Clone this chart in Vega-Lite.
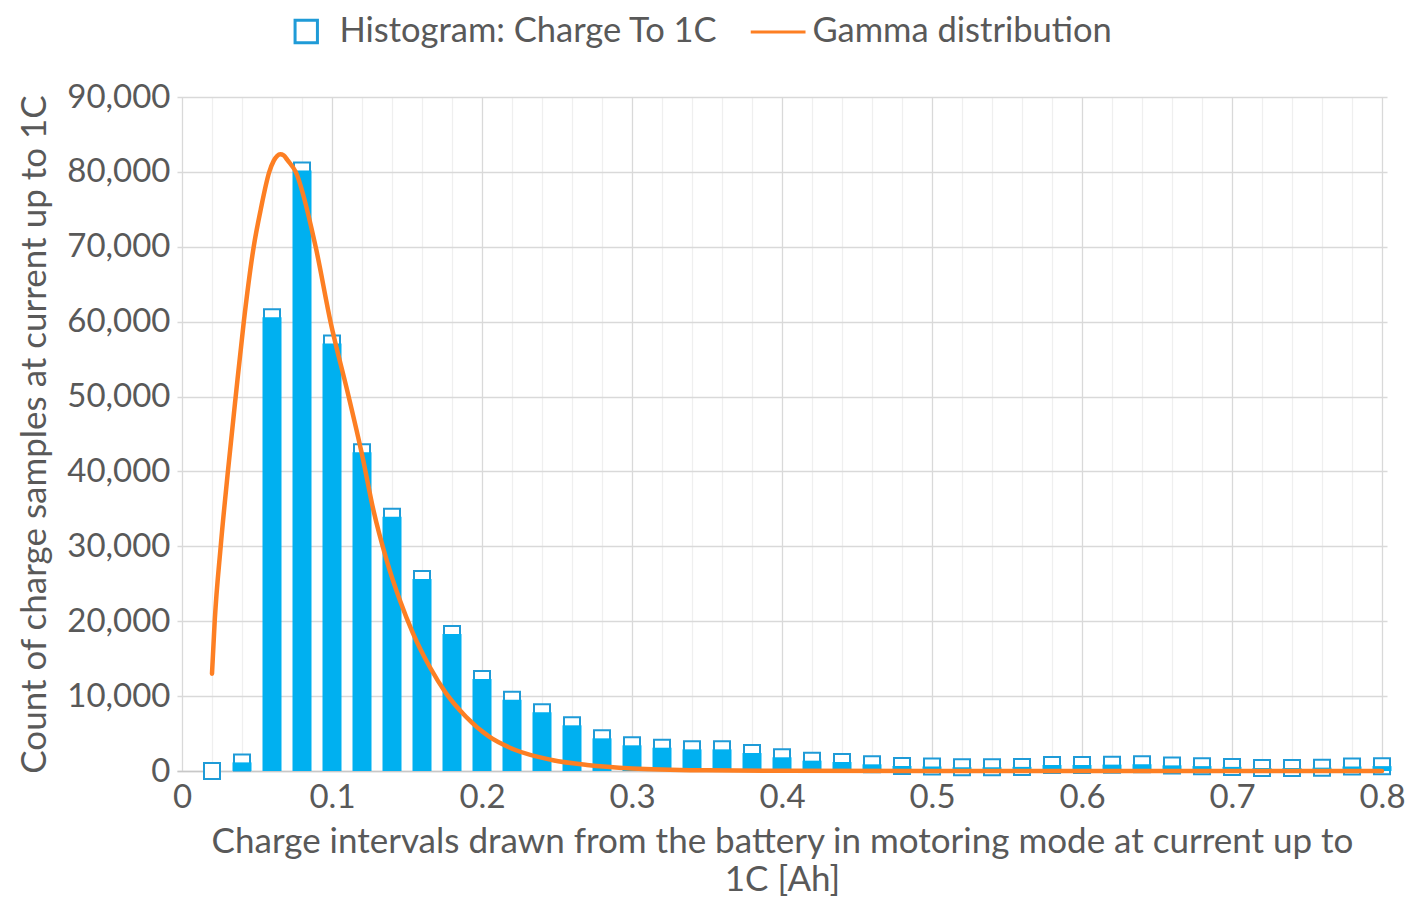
{
  "$schema": "https://vega.github.io/schema/vega-lite/v6.json",
  "width": 1210,
  "height": 674,
  "autosize": {"type": "none"},
  "padding": {"left": 177, "top": 97, "right": 41, "bottom": 140},
  "background": "white",
  "config": {
    "font": "Lato",
    "view": {"stroke": null},
    "axis": {
      "labelFont": "Lato", "titleFont": "Lato",
      "labelColor": "#595959", "titleColor": "#595959",
      "labelFontSize": 33, "titleFontSize": 35,
      "titleFontWeight": "normal",
      "ticks": false,
      "gridColor": "#d9d9d9", "gridWidth": 1.3
    },
    "legend": {
      "labelFont": "Lato", "labelFontSize": 34.5, "labelColor": "#595959", "labelLimit": 0
    }
  },
  "datasets": {
    "hist": [
      {"x": 0.02, "count": 0, "series": "Histogram: Charge To 1C"},
      {"x": 0.04, "count": 1150, "series": "Histogram: Charge To 1C"},
      {"x": 0.06, "count": 60600, "series": "Histogram: Charge To 1C"},
      {"x": 0.08, "count": 80200, "series": "Histogram: Charge To 1C"},
      {"x": 0.10, "count": 57100, "series": "Histogram: Charge To 1C"},
      {"x": 0.12, "count": 42550, "series": "Histogram: Charge To 1C"},
      {"x": 0.14, "count": 33950, "series": "Histogram: Charge To 1C"},
      {"x": 0.16, "count": 25650, "series": "Histogram: Charge To 1C"},
      {"x": 0.18, "count": 18300, "series": "Histogram: Charge To 1C"},
      {"x": 0.20, "count": 12280, "series": "Histogram: Charge To 1C"},
      {"x": 0.22, "count": 9520, "series": "Histogram: Charge To 1C"},
      {"x": 0.24, "count": 7830, "series": "Histogram: Charge To 1C"},
      {"x": 0.26, "count": 6100, "series": "Histogram: Charge To 1C"},
      {"x": 0.28, "count": 4360, "series": "Histogram: Charge To 1C"},
      {"x": 0.30, "count": 3430, "series": "Histogram: Charge To 1C"},
      {"x": 0.32, "count": 3110, "series": "Histogram: Charge To 1C"},
      {"x": 0.34, "count": 2890, "series": "Histogram: Charge To 1C"},
      {"x": 0.36, "count": 2890, "series": "Histogram: Charge To 1C"},
      {"x": 0.38, "count": 2400, "series": "Histogram: Charge To 1C"},
      {"x": 0.40, "count": 1830, "series": "Histogram: Charge To 1C"},
      {"x": 0.42, "count": 1380, "series": "Histogram: Charge To 1C"},
      {"x": 0.44, "count": 1200, "series": "Histogram: Charge To 1C"},
      {"x": 0.46, "count": 890, "series": "Histogram: Charge To 1C"},
      {"x": 0.48, "count": 670, "series": "Histogram: Charge To 1C"},
      {"x": 0.50, "count": 600, "series": "Histogram: Charge To 1C"},
      {"x": 0.52, "count": 500, "series": "Histogram: Charge To 1C"},
      {"x": 0.54, "count": 500, "series": "Histogram: Charge To 1C"},
      {"x": 0.56, "count": 550, "series": "Histogram: Charge To 1C"},
      {"x": 0.58, "count": 800, "series": "Histogram: Charge To 1C"},
      {"x": 0.60, "count": 800, "series": "Histogram: Charge To 1C"},
      {"x": 0.62, "count": 850, "series": "Histogram: Charge To 1C"},
      {"x": 0.64, "count": 900, "series": "Histogram: Charge To 1C"},
      {"x": 0.66, "count": 750, "series": "Histogram: Charge To 1C"},
      {"x": 0.68, "count": 650, "series": "Histogram: Charge To 1C"},
      {"x": 0.70, "count": 550, "series": "Histogram: Charge To 1C"},
      {"x": 0.72, "count": 400, "series": "Histogram: Charge To 1C"},
      {"x": 0.74, "count": 400, "series": "Histogram: Charge To 1C"},
      {"x": 0.76, "count": 450, "series": "Histogram: Charge To 1C"},
      {"x": 0.78, "count": 600, "series": "Histogram: Charge To 1C"},
      {"x": 0.80, "count": 650, "series": "Histogram: Charge To 1C"}
    ],
    "gamma": [
      {"x": 0.02, "count": 13000, "series": "Gamma distribution"},
      {"x": 0.0218, "count": 20000, "series": "Gamma distribution"},
      {"x": 0.0258, "count": 30000, "series": "Gamma distribution"},
      {"x": 0.0306, "count": 40000, "series": "Gamma distribution"},
      {"x": 0.0358, "count": 50000, "series": "Gamma distribution"},
      {"x": 0.0412, "count": 60000, "series": "Gamma distribution"},
      {"x": 0.0478, "count": 70000, "series": "Gamma distribution"},
      {"x": 0.0525, "count": 75000, "series": "Gamma distribution"},
      {"x": 0.0582, "count": 80000, "series": "Gamma distribution"},
      {"x": 0.0612, "count": 81500, "series": "Gamma distribution"},
      {"x": 0.0635, "count": 82150, "series": "Gamma distribution"},
      {"x": 0.0655, "count": 82350, "series": "Gamma distribution"},
      {"x": 0.0678, "count": 82200, "series": "Gamma distribution"},
      {"x": 0.0702, "count": 81600, "series": "Gamma distribution"},
      {"x": 0.0758, "count": 80000, "series": "Gamma distribution"},
      {"x": 0.0891, "count": 70000, "series": "Gamma distribution"},
      {"x": 0.099, "count": 60000, "series": "Gamma distribution"},
      {"x": 0.1111, "count": 50000, "series": "Gamma distribution"},
      {"x": 0.1205, "count": 41800, "series": "Gamma distribution"},
      {"x": 0.1276, "count": 34840, "series": "Gamma distribution"},
      {"x": 0.1364, "count": 28170, "series": "Gamma distribution"},
      {"x": 0.1452, "count": 22830, "series": "Gamma distribution"},
      {"x": 0.154, "count": 18380, "series": "Gamma distribution"},
      {"x": 0.1651, "count": 13920, "series": "Gamma distribution"},
      {"x": 0.1761, "count": 10370, "series": "Gamma distribution"},
      {"x": 0.1893, "count": 7250, "series": "Gamma distribution"},
      {"x": 0.2048, "count": 4580, "series": "Gamma distribution"},
      {"x": 0.2223, "count": 2800, "series": "Gamma distribution"},
      {"x": 0.2466, "count": 1470, "series": "Gamma distribution"},
      {"x": 0.27, "count": 800, "series": "Gamma distribution"},
      {"x": 0.30, "count": 350, "series": "Gamma distribution"},
      {"x": 0.35, "count": 100, "series": "Gamma distribution"},
      {"x": 0.40, "count": 30, "series": "Gamma distribution"},
      {"x": 0.50, "count": 0, "series": "Gamma distribution"},
      {"x": 0.80, "count": 0, "series": "Gamma distribution"}
    ]
  },
  "encoding": {
    "x": {
      "field": "x", "type": "quantitative",
      "scale": {"domain": [0, 0.8], "nice": false, "zero": false},
      "axis": {
        "values": [0, 0.02, 0.04, 0.06, 0.08, 0.1, 0.12, 0.14, 0.16, 0.18, 0.2, 0.22, 0.24, 0.26, 0.28, 0.3, 0.32, 0.34, 0.36, 0.38, 0.4, 0.42, 0.44, 0.46, 0.48, 0.5, 0.52, 0.54, 0.56, 0.58, 0.6, 0.62, 0.64, 0.66, 0.68, 0.7, 0.72, 0.74, 0.76, 0.78, 0.8],
        "labelExpr": "abs(datum.value*10 - round(datum.value*10)) < 0.001 ? format(datum.value, '.1~f') : ''",
        "labelOverlap": false,
        "labelFlush": false,
        "labelPadding": 10,
        "gridColor": {"condition": {"test": "abs(datum.value*10 - round(datum.value*10)) < 0.001", "value": "#d9d9d9"}, "value": "#efefef"},
        "domainColor": "#c8c8c8",
        "domainWidth": 1.5,
        "title": ["Charge intervals drawn from the battery in motoring mode at current up to", "1C [Ah]"],
        "titlePadding": 10,
        "titleLineHeight": 38
      }
    },
    "y": {
      "field": "count", "type": "quantitative",
      "scale": {"domain": [0, 90000], "nice": false},
      "axis": {
        "values": [0, 10000, 20000, 30000, 40000, 50000, 60000, 70000, 80000, 90000],
        "format": ",.0f",
        "domain": false,
        "labelPadding": 7,
        "title": "Count of charge samples at current up to 1C",
        "titlePadding": 14
      }
    }
  },
  "layer": [
    {
      "data": {"name": "hist"},
      "mark": {"type": "point", "filled": false, "fill": "white", "size": 256, "strokeWidth": 2, "opacity": 1},
      "encoding": {
        "color": {
          "field": "series", "type": "nominal",
          "scale": {"domain": ["Histogram: Charge To 1C", "Gamma distribution"], "range": ["#1f9bd7", "#fd7f23"]},
          "legend": {
            "title": null,
            "orient": "none",
            "direction": "horizontal",
            "legendX": 112,
            "legendY": -83,
            "symbolSize": 500,
            "symbolStrokeWidth": 3,
            "symbolFillColor": "transparent",
            "labelOffset": 16,
            "columnPadding": 26
          }
        },
        "shape": {
          "field": "series", "type": "nominal",
          "scale": {"domain": ["Histogram: Charge To 1C", "Gamma distribution"], "range": ["square", "M-2.55,0L2.35,0"]},
          "legend": {
            "title": null,
            "orient": "none",
            "direction": "horizontal",
            "legendX": 112,
            "legendY": -83,
            "symbolSize": 500,
            "symbolStrokeWidth": 3,
            "symbolFillColor": "transparent",
            "labelOffset": 16,
            "columnPadding": 26
          }
        }
      }
    },
    {
      "data": {"name": "hist"},
      "mark": {"type": "bar", "size": 19, "color": "#00b0f0"},
      "encoding": {}
    },
    {
      "data": {"name": "gamma"},
      "mark": {"type": "line", "strokeWidth": 4.5, "interpolate": "monotone", "strokeCap": "round"},
      "encoding": {
        "color": {"field": "series", "type": "nominal"}
      }
    }
  ]
}
